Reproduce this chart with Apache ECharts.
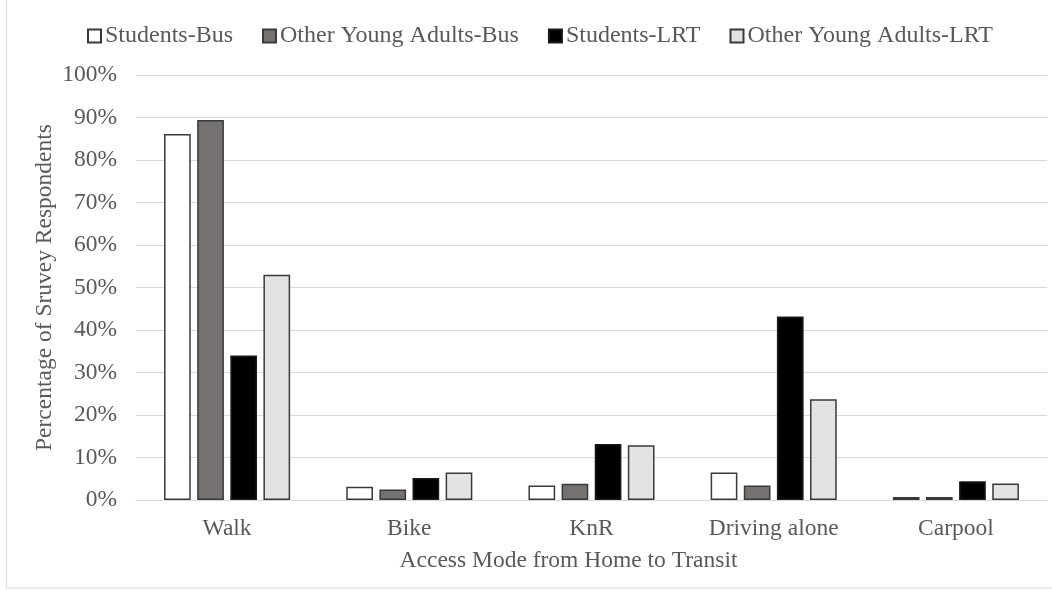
<!DOCTYPE html>
<html>
<head>
<meta charset="utf-8">
<script src="https://cdn.jsdelivr.net/npm/echarts@6/dist/echarts.min.js"></script>
<style>
  html, body { margin: 0; padding: 0; background: #ffffff; }
  #chart { width: 1052px; height: 590px; }
</style>
</head>
<body>
<div id="chart"></div>
<script>
// Access modes (categories on the x axis)
const categories = ['Walk', 'Bike', 'KnR', 'Driving alone', 'Carpool'];

// Share of respondents per access mode, in percent
const studentsBus = [86.1, 3.1, 3.4, 6.5, 0.7];
const otherYoungAdultsBus = [89.4, 2.5, 3.8, 3.4, 0.7];
const studentsLRT = [34.0, 5.2, 13.2, 43.2, 4.4];
const otherYoungAdultsLRT = [53.0, 6.5, 12.9, 23.7, 3.9];

const seriesNames = ['Students-Bus', 'Other Young Adults-Bus', 'Students-LRT', 'Other Young Adults-LRT'];

const FONT = '"Liberation Serif", "Times New Roman", serif';
const TEXT = '#595959';
const SIZE = 23.5;

const chart = echarts.init(document.getElementById('chart'));

function barSeries(name, data, fill, border) {
  return {
    name: name,
    type: 'bar',
    data: data,
    barGap: '24%',
    barCategoryGap: '30.8%',
    itemStyle: { color: fill, borderColor: border, borderWidth: 1.5 },
    emphasis: { disabled: true }
  };
}

chart.setOption({
  animation: false,
  backgroundColor: '#ffffff',
  textStyle: { fontFamily: FONT },
  graphic: [{
    type: 'rect',
    shape: { x: 6.5, y: -5, width: 1060, height: 593 },
    style: { fill: 'none', stroke: '#d9d9d9', lineWidth: 1 },
    silent: true
  }],
  legend: {
    data: seriesNames,
    left: 82,
    top: 19,
    itemWidth: 13,
    itemHeight: 13,
    itemGap: 29,
    icon: 'rect',
    textStyle: { fontFamily: FONT, fontSize: 24, color: TEXT, padding: [0, 0, 0, -1] }
  },
  grid: { left: 136, right: 5, top: 75, bottom: 90 },
  xAxis: {
    type: 'category',
    data: categories,
    name: 'Access Mode from Home to Transit',
    nameLocation: 'middle',
    nameGap: 49,
    nameTextStyle: { fontFamily: FONT, fontSize: SIZE, color: TEXT, padding: [0, 46, 0, 0] },
    axisLine: { lineStyle: { color: '#d9d9d9', width: 1 } },
    axisTick: { show: false },
    axisLabel: { fontFamily: FONT, fontSize: SIZE, color: TEXT, margin: 17 }
  },
  yAxis: {
    type: 'value',
    min: 0,
    max: 100,
    interval: 10,
    name: 'Percentage of Sruvey Respondents',
    nameLocation: 'middle',
    nameGap: 79,
    nameMoveOverlap: false,
    nameTextStyle: { fontFamily: FONT, fontSize: SIZE, color: TEXT },
    axisLine: { show: false },
    axisTick: { show: false },
    axisLabel: { fontFamily: FONT, fontSize: SIZE, color: TEXT, margin: 19, formatter: '{value}%' },
    splitLine: { lineStyle: { color: '#d9d9d9', width: 1 } }
  },
  series: [
    barSeries(seriesNames[0], studentsBus, '#ffffff', '#3a3a3a'),
    barSeries(seriesNames[1], otherYoungAdultsBus, '#757171', '#3a3a3a'),
    barSeries(seriesNames[2], studentsLRT, '#000000', '#1a1a1a'),
    barSeries(seriesNames[3], otherYoungAdultsLRT, '#e3e3e3', '#3a3a3a')
  ]
});
</script>
</body>
</html>
